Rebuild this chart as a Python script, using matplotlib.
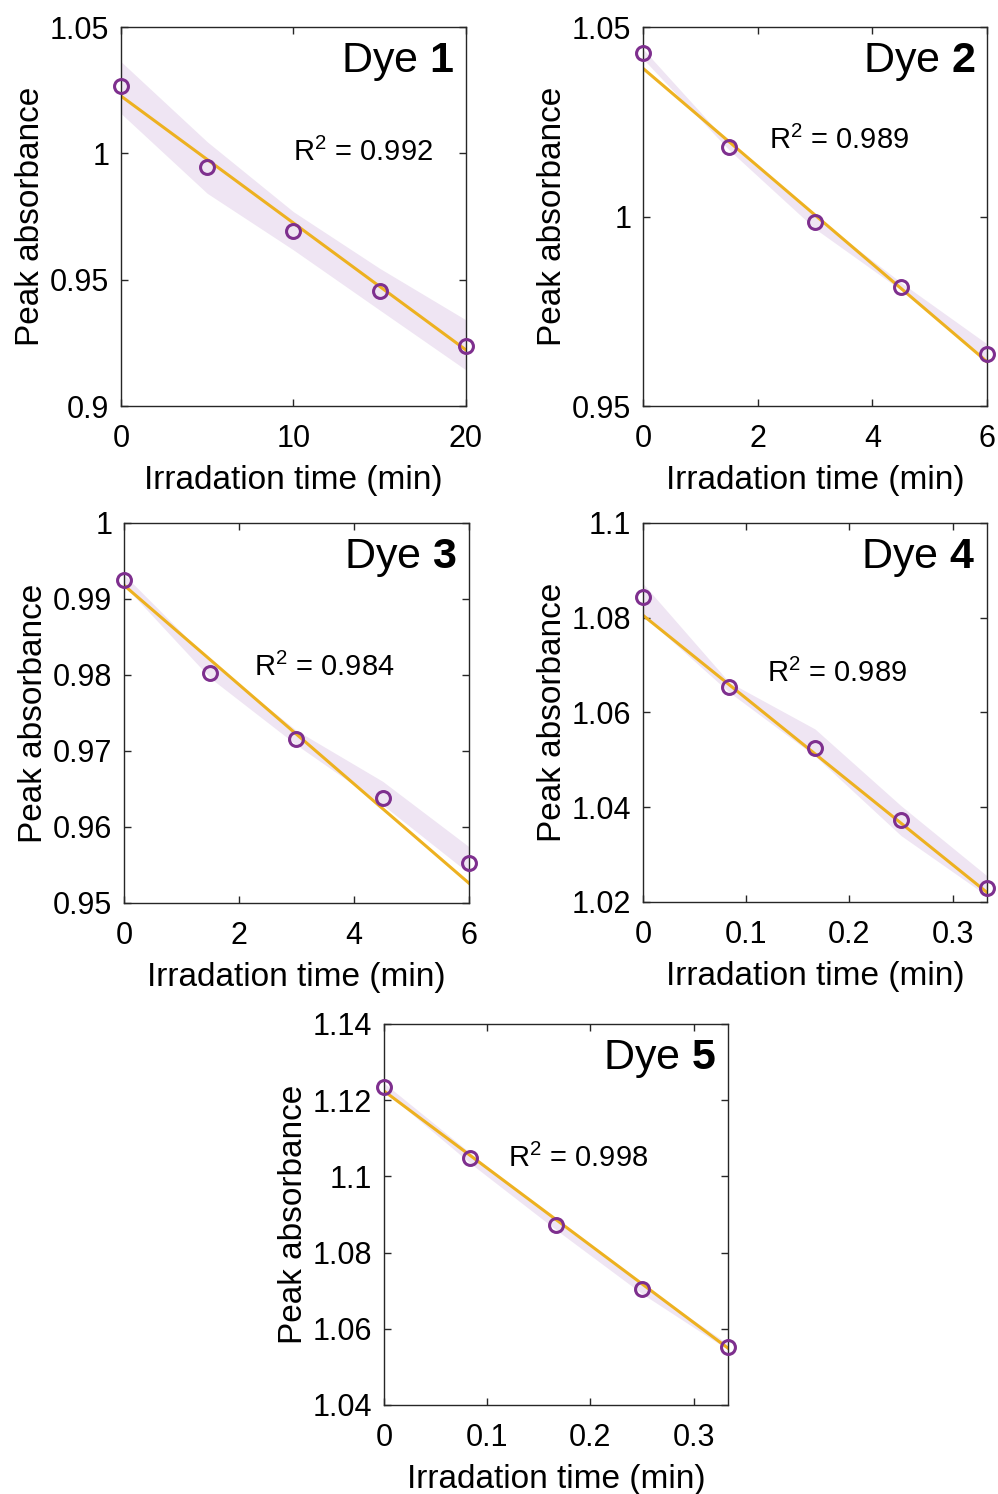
import numpy as np
import matplotlib
matplotlib.use("Agg")
import matplotlib.pyplot as plt

plt.rcParams['font.family'] = ['Liberation Sans', 'DejaVu Sans']
plt.rcParams['mathtext.fontset'] = 'custom'
plt.rcParams['mathtext.rm'] = 'Liberation Sans'
plt.rcParams['mathtext.bf'] = 'Liberation Sans:bold'

# irradiation times (min)
t_dye1 = [0, 5, 10, 15, 20]
t_dye23 = [0, 1.5, 3, 4.5, 6]
t_dye45 = [0, 5 / 60, 10 / 60, 15 / 60, 20 / 60]

# peak absorbance (mean) and shaded band
abs_dye1 = [1.0267, 0.9946, 0.9693, 0.9455, 0.9238]
hi_dye1 = [1.0363, 1.0046, 0.9769, 0.9545, 0.9341]
lo_dye1 = [1.0158, 0.9842, 0.9618, 0.9380, 0.9143]

abs_dye2 = [1.0431, 1.0183, 0.9986, 0.9814, 0.9637]
hi_dye2 = [1.0442, 1.0192, 1.0000, 0.9826, 0.9664]
lo_dye2 = [1.0416, 1.0176, 0.9968, 0.9806, 0.9623]

abs_dye3 = [0.9925, 0.9803, 0.9716, 0.9638, 0.9553]
hi_dye3 = [0.9932, 0.9818, 0.9727, 0.9660, 0.9574]
lo_dye3 = [0.9918, 0.9796, 0.9708, 0.9629, 0.9539]

abs_dye4 = [1.0843, 1.0653, 1.0524, 1.0372, 1.0230]
hi_dye4 = [1.0872, 1.0664, 1.0565, 1.0403, 1.0255]
lo_dye4 = [1.0805, 1.0643, 1.0508, 1.0340, 1.0213]

abs_dye5 = [1.1235, 1.1048, 1.0872, 1.0704, 1.0552]
hi_dye5 = [1.1245, 1.1062, 1.0882, 1.0715, 1.0560]
lo_dye5 = [1.1225, 1.1035, 1.0860, 1.0692, 1.0545]

# linear fits as drawn in the figure (intercept, slope per min)
fit_intercepts = [1.0227, 1.0391, 0.9918, 1.0805, 1.1224]
fit_slopes = [-0.005025, -0.0129, -0.006533, -0.1755, -0.2025]

r2_labels = ['0.992', '0.989', '0.984', '0.989', '0.998']
dye_names = ['1', '2', '3', '4', '5']

panels = [
    # t, y, hi, lo, xlim, xticks, xticklabels, ylim, yticks, yticklabels
    (t_dye1, abs_dye1, hi_dye1, lo_dye1, (0, 20), [0, 10, 20], ['0', '10', '20'],
     (0.9, 1.05), [0.9, 0.95, 1.0, 1.05], ['0.9', '0.95', '1', '1.05']),
    (t_dye23, abs_dye2, hi_dye2, lo_dye2, (0, 6), [0, 2, 4, 6], ['0', '2', '4', '6'],
     (0.95, 1.05), [0.95, 1.0, 1.05], ['0.95', '1', '1.05']),
    (t_dye23, abs_dye3, hi_dye3, lo_dye3, (0, 6), [0, 2, 4, 6], ['0', '2', '4', '6'],
     (0.95, 1.0), [0.95, 0.96, 0.97, 0.98, 0.99, 1.0],
     ['0.95', '0.96', '0.97', '0.98', '0.99', '1']),
    (t_dye45, abs_dye4, hi_dye4, lo_dye4, (0, 1 / 3), [0, 0.1, 0.2, 0.3], ['0', '0.1', '0.2', '0.3'],
     (1.02, 1.1), [1.02, 1.04, 1.06, 1.08, 1.1], ['1.02', '1.04', '1.06', '1.08', '1.1']),
    (t_dye45, abs_dye5, hi_dye5, lo_dye5, (0, 1 / 3), [0, 0.1, 0.2, 0.3], ['0', '0.1', '0.2', '0.3'],
     (1.04, 1.14), [1.04, 1.06, 1.08, 1.1, 1.12, 1.14],
     ['1.04', '1.06', '1.08', '1.1', '1.12', '1.14']),
]

# axes rectangles in figure fraction
rects = [
    [0.1212, 0.7282, 0.3457, 0.2537],
    [0.6443, 0.7282, 0.3447, 0.2537],
    [0.1242, 0.3956, 0.3457, 0.2544],
    [0.6443, 0.3963, 0.3447, 0.2537],
    [0.3848, 0.0596, 0.3447, 0.2550],
]

# R^2 text anchor (axes fraction, left / center)
r2_pos = [(0.499, 0.668), (0.366, 0.702), (0.377, 0.621), (0.360, 0.602), (0.360, 0.648)]

band_color = '#EFE5F3'
marker_color = '#7E2F8E'
line_color = '#EDB120'
axis_color = '#262626'

fig = plt.figure(figsize=(9.98, 14.94), dpi=100)

for i, (t, y, hi, lo, xl, xt, xtl, yl, yt, ytl) in enumerate(panels):
    ax = fig.add_axes(rects[i])
    t = np.array(t)
    y = np.array(y)
    ax.fill_between(t, lo, hi, color=band_color, linewidth=0, zorder=1)
    fit = fit_intercepts[i] + fit_slopes[i] * t
    ax.plot(t, fit, color=line_color, linewidth=2.2, zorder=2)
    ax.plot(t, y, 'o', markersize=10, markerfacecolor='none',
            markeredgecolor=marker_color, markeredgewidth=2.2, zorder=3, clip_on=False)

    ax.set_xlim(*xl)
    ax.set_ylim(*yl)
    ax.set_xticks(xt)
    ax.set_xticklabels(xtl)
    ax.set_yticks(yt)
    ax.set_yticklabels(ytl)
    ax.tick_params(direction='in', top=True, right=True, length=5, width=1,
                   color=axis_color, labelsize=22)
    ax.tick_params(axis='x', pad=13)
    ax.tick_params(axis='y', pad=8.5)
    for s in ax.spines.values():
        s.set_color(axis_color)
        s.set_linewidth(1)

    ax.set_xlabel('Irradation time (min)', fontsize=24, labelpad=8)
    ax.set_ylabel('Peak absorbance', fontsize=24, labelpad=3)

    ax.text(0.966, 0.962, r'Dye $\mathbf{' + dye_names[i] + '}$', transform=ax.transAxes,
            ha='right', va='top', fontsize=31)
    ax.text(r2_pos[i][0], r2_pos[i][1], r'R$^2$ = ' + r2_labels[i], transform=ax.transAxes,
            ha='left', va='center', fontsize=21)

fig.savefig('out.png', dpi=100)
